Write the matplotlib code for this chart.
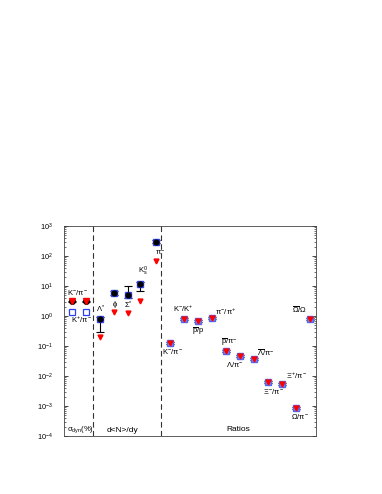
import numpy as np
import matplotlib
matplotlib.use("Agg")
import matplotlib.pyplot as plt
from matplotlib.ticker import LogLocator, NullFormatter

plt.rcParams["font.family"] = ["Liberation Sans", "DejaVu Sans"]
plt.rcParams["mathtext.fontset"] = "custom"
plt.rcParams["mathtext.rm"] = "Liberation Sans"
plt.rcParams["mathtext.it"] = "Liberation Sans"
plt.rcParams["mathtext.bf"] = "Liberation Sans:bold"

# sigma_dyn block
sig_x = [0, 1]
sig_black = [3.2, 3.2]
sig_blue = [1.4, 1.4]

# d<N>/dy block
dn_x = [2, 3, 4, 4.85, 6]
dn_vals = [0.8, 6.0, 5.0, 12.0, 300.0]
dn_lo = [0.3, 5.0, 4.0, 6.8, 270.0]
dn_hi = [0.95, 6.9, 10.0, 14.0, 330.0]
dn_red = [0.2, 1.4, 1.25, 3.2, 68.0]

# ratios block
rat_x = [7, 8, 9, 10, 11, 12, 13, 14, 15, 16, 17]
rat_vals = [0.13, 0.8, 0.68, 0.88, 0.068, 0.045, 0.037, 0.0065, 0.0053, 0.00088, 0.8]

labels = [
    (r"K$^{-}$/$\pi^{-}$", -0.34, 0.8),
    (r"K$^{+}$/$\pi^{-}$", -0.07, -0.13),
    (r"$\Lambda^{*}$", 1.74, 0.23),
    (r"$\phi$", 2.86, 0.4),
    (r"$\Sigma^{*}$", 3.74, 0.37),
    (r"K$^{0}_{s}$", 4.74, 1.48),
    (r"$\pi^{-}$", 5.95, 2.13),
    (r"K$^{-}$/K$^{+}$", 7.26, 0.23),
    (r"$\overline{\rm p}$/p", 8.57, -0.5),
    (r"$\pi^{-}$/$\pi^{+}$", 10.24, 0.14),
    (r"K$^{-}$/$\pi^{-}$", 6.45, -1.19),
    (r"$\overline{\rm p}$/$\pi^{-}$", 10.66, -0.89),
    (r"$\Lambda$/$\pi^{-}$", 11.0, -1.61),
    (r"$\overline{\Lambda}$/$\pi^{-}$", 13.21, -1.22),
    (r"$\Xi^{+}$/$\pi^{-}$", 15.31, -2.0),
    (r"$\Xi^{-}$/$\pi^{-}$", 13.69, -2.5),
    (r"$\Omega$/$\pi^{-}$", 15.66, -3.36),
    (r"$\overline{\Omega}$/$\Omega$", 15.71, 0.2),
]

fig = plt.figure(figsize=(3.82, 4.94), dpi=100)
ax = fig.add_axes([0.1675, 0.1174, 0.6597, 0.4251])
ax.set_yscale("log")
ax.set_xlim(-0.55, 17.45)
ax.set_ylim(1e-4, 1e3)

# sigma_dyn markers
ax.errorbar(sig_x, sig_black, yerr=[[0.35, 0.35], [0.0, 0.0]], fmt="o", color="black",
            ms=4, capsize=3, elinewidth=0.8, capthick=0.8, zorder=3)
ax.plot(sig_x, sig_black, "v", color="red", ms=4, zorder=4)
ax.plot(sig_x, sig_blue, "s", mfc="none", mec="#2a3cff", ms=4.5, mew=0.9, zorder=3)

# d<N>/dy markers
dn_vals_a = np.array(dn_vals)
yerr = [dn_vals_a - np.array(dn_lo), np.array(dn_hi) - dn_vals_a]
ax.errorbar(dn_x, dn_vals, yerr=yerr, fmt="none", ecolor="black",
            capsize=3, elinewidth=0.8, capthick=0.8, zorder=2)
ax.plot(dn_x, dn_vals, "s", color="#3344ee", mfc="#8899ee", ms=5, zorder=3)
ax.plot(dn_x, dn_vals, "o", color="black", ms=3.5, zorder=4)
ax.plot(dn_x, dn_red, "v", color="red", ms=3.5, zorder=4)

# ratio markers
rat_a = np.array(rat_vals)
ax.errorbar(rat_x, rat_vals, yerr=[rat_a * 0.08, rat_a * 0.08], fmt="none", ecolor="black",
            capsize=3, elinewidth=0.8, capthick=0.8, zorder=2)
ax.plot(rat_x, rat_vals, "s", color="#5566ee", mfc="#7788ee", ms=5, zorder=3)
ax.plot(rat_x, rat_vals, "v", color="red", ms=3.5, zorder=4)

# section separators
for xs in [1.52, 6.38]:
    ax.axvline(xs, color="#333333", ls=(0, (5, 3)), lw=0.8)

for txt, x, ly in labels:
    ax.text(x, 10 ** ly, txt, fontsize=5.5, ha="left", va="center")

ax.text(-0.36, 10 ** -3.8, r"$\sigma_{\rm dyn}$(%)", fontsize=5.5, ha="left", va="center")
ax.text(3.66, 10 ** -3.8, "d<N>/dy", fontsize=6, ha="center", va="center")
ax.text(11.93, 10 ** -3.77, "Ratios", fontsize=6, ha="center", va="center")

ax.set_xticks([])
ax.yaxis.set_major_locator(LogLocator(base=10, numticks=10))
ax.yaxis.set_minor_locator(LogLocator(base=10, subs=np.arange(2, 10), numticks=20))
ax.yaxis.set_minor_formatter(NullFormatter())
ax.tick_params(axis="y", which="both", direction="in", right=True, labelsize=5.3, pad=8)
ax.tick_params(axis="y", which="major", length=3, width=0.5)
ax.tick_params(axis="y", which="minor", length=1.5, width=0.4)
for sp in ax.spines.values():
    sp.set_linewidth(0.6)
    sp.set_color("#444444")

fig.savefig("out.png", dpi=100)
